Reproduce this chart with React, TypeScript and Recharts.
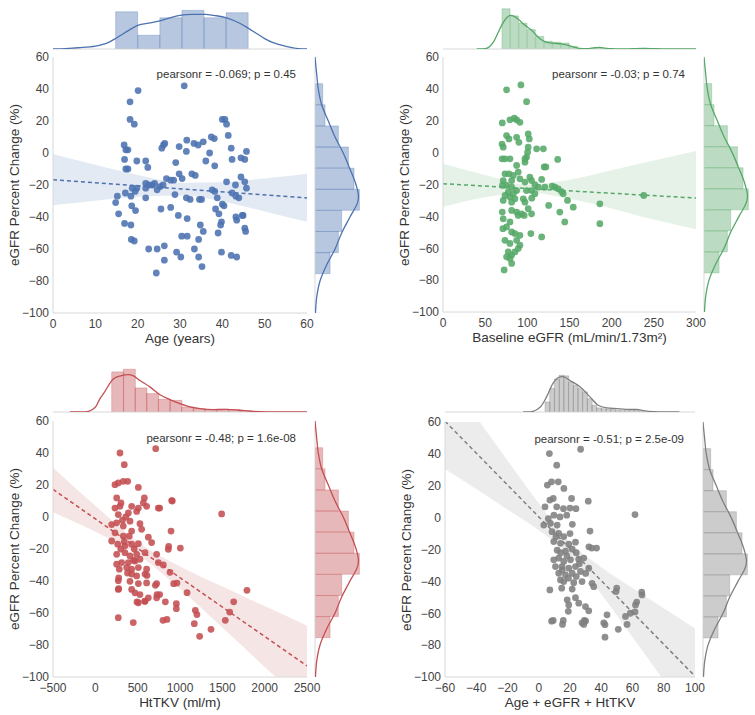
import React from 'react';
import { ComposedChart, Scatter, Line, Area, Bar, XAxis, YAxis, ZAxis, ReferenceLine } from 'recharts';

const FONT = '"Liberation Sans", Arial, Helvetica, sans-serif';
const SPINE = '#d8d8d8';
const Y_TICKS = [-100, -80, -60, -40, -20, 0, 20, 40, 60];
const Y_LABEL = 'eGFR Percent Change (%)';

// ---- shared: eGFR percent change marginal (right side of every panel)
const yBinCenters = [-68.9, -55.7, -42.5, -29.3, -16.1, -2.9, 10.3, 23.5, 36.7];
const yBinCounts = [9.6, 14.9, 17, 28.3, 24.9, 21.3, 14.9, 6.4, 4.9];
const yKdeAt = [-100, -90, -80, -70, -60, -50, -40, -30, -27, -20, -10, 0, 10, 20, 30, 40, 50, 60];
const yKdeDensity = [0.3, 1.1, 3.2, 7.4, 12.8, 17, 22.3, 27.4, 27.7, 26.2, 22.3, 18, 12.8, 8.5, 4.3, 2.1, 1, 0];

// ---- panel 1: age
const agePoints = [
  [20.1, 39], [31, 42], [18.2, 32], [18.2, 21], [19.2, 18], [16.8, 5], [17.2, 2], [17.7, 2], [16.9, -4], [17.2, -10],
  [17.7, -10], [19.8, -5], [15.2, -27], [14.8, -31], [15.5, -38], [16.9, -44], [18.4, -45], [17.1, -25], [18.4, -27],
  [18.7, -22], [19.8, -22], [19.4, -24], [18.6, -33], [19.5, -36], [18.5, -54], [19.2, -55], [21.9, -5], [22.4, -9],
  [21.9, -19], [22.6, -20], [21.9, -22], [23.4, -20], [21.9, -28], [25.7, 3], [26.1, 5], [26.4, 6], [22.6, -60],
  [24.4, -75], [24.6, -60], [26.3, -58], [26.3, -67], [25.5, -35], [26.8, -16], [27.8, -17], [28.5, -17], [29, -6],
  [29.8, 4], [31.5, 1], [31.6, 8], [33.3, 6], [34.3, 5], [35.5, 7], [29.8, -13], [30.5, -16], [32.8, -13], [33.6, -14],
  [28.8, -26], [31.5, -28], [32.4, -29], [34.6, -29], [35.1, -29], [27.8, -34], [29.6, -39], [31.7, -41], [30.4, -52],
  [31.7, -52], [29.2, -62], [30.2, -65], [33.4, -60], [34.4, -65], [35.2, -71], [34.4, -54], [34.8, -45], [35.5, -49],
  [36.1, -5], [37, 0], [38.2, -8], [37.4, 10], [38.1, 9], [37.6, -23], [38.2, -24], [38.8, -28], [38.4, -35], [39, -50],
  [39.8, -43], [39.6, -45], [39.8, -62], [39.2, -38], [40, -32], [40.4, -33], [40, 21], [40.6, 21], [41, 18], [41.4, 11],
  [41, -18], [42.1, 3], [42.3, -4], [43.1, -20], [42.3, -25], [43.2, -27], [43.9, -28], [43.2, -40], [43.4, -42],
  [44.7, -39], [44.9, -39], [42.1, -64], [43.4, -65], [44.4, -3], [45.3, -4], [45.7, 1], [44.4, -15], [45.3, -18],
  [45.7, -22], [45.3, -47], [45.5, -49], [24, -19], [25.3, -21], [24.6, -23], [26, -20],
];
const ageFitX = [0, 60];
const ageFitY = [-16.7, -28.1];
const ageBandX = [0, 10, 20, 31, 40, 50, 60];
const ageBandLo = [-32.7, -29.8, -27.3, -26.6, -30.3, -36.5, -43];
const ageBandHi = [-0.7, -7.4, -13.7, -18.6, -18.3, -15.9, -13];
const ageBinCenters = [17.41, 22.63, 27.85, 33.07, 38.29, 43.51];
const ageBinCounts = [23.6, 8.7, 19.8, 24.5, 19.8, 23];
const ageKdeX = [0, 3, 6, 10, 13, 15, 18, 20, 23, 25, 28, 30, 33, 36, 38, 41, 44, 46, 48, 50, 52, 55, 58, 60];
const ageKdeY = [0, 0.3, 0.8, 1.8, 4, 7, 12, 15, 16.5, 17.7, 20, 21.3, 22, 22, 21.3, 19.8, 16.5, 13.4, 10, 6.6, 4, 1.7, 0.3, 0.1];

// ---- panel 2: baseline eGFR
const egfrPoints = [
  [75.4, 39.4], [92.4, 42.5], [99.1, 32], [70.3, 18.6], [79.4, 20.6], [84.5, 21.6], [87.3, 20.6], [91.2, 19], [75.4, 10.7],
  [78.2, 8.6], [87.3, 9.6], [90, 6.5], [101, 11.7], [102.3, 8.6], [101, 3.4], [100.3, 0.3], [99.1, -2.8], [97.2, -6],
  [111, 2.4], [119, 2.4], [70, 5.4], [71.4, 3.4], [70, -3.9], [73.5, -3.9], [79.4, -3.9], [87.3, -8], [97.2, -3.9],
  [136, -4.3], [120, -9], [122, -9], [89.2, -12.2], [73.5, -13.3], [78.2, -13.3], [83.3, -14.3], [91.2, -16.4],
  [103, -15.4], [105, -17.5], [81.4, -17.5], [71.4, -17.5], [70.5, -20.6], [75.4, -20.6], [81.4, -21.7], [97.2, -18.5],
  [109, -20.1], [117, -16.8], [120.8, -21.7], [129.5, -21], [132.7, -21.7], [136.6, -22.7], [140.5, -24.4], [113, -21.7],
  [105, -23.8], [99, -23.8], [87.3, -23.8], [77.4, -24.8], [83.3, -25.8], [73.5, -26.9], [79.4, -27.9], [85.3, -29],
  [71.4, -30], [81.4, -31.1], [95.2, -29], [105.2, -28.6], [109, -25.8], [142.5, -25.8], [147.6, -30], [154.4, -34.2],
  [186, -32.1], [125.3, -33.1], [97.2, -31.1], [101, -35.2], [70.3, -37.3], [81.4, -36.3], [87.3, -37.3], [93.2, -38.4],
  [138.5, -37.3], [144.4, -43.5], [186, -44.6], [71.4, -41.5], [79.4, -43.5], [89.2, -39.4], [96.3, -39.4], [105, -38.4],
  [71, -47.7], [75.4, -46.6], [81.4, -49.8], [85.3, -50.8], [91.2, -51.9], [104.2, -50.8], [117, -52.9], [73.5, -55],
  [79.4, -57], [87.3, -55], [91.2, -58.1], [77.4, -62.3], [81.4, -64.3], [85.3, -62.3], [89.2, -60.2], [79.4, -66.4],
  [75.4, -65.4], [81.4, -69.5], [72.5, -73.6], [238, -26.9],
];
const egfrFitX = [0, 300];
const egfrFitY = [-19.5, -28.5];
const egfrBandX = [0, 50, 100, 150, 200, 250, 300];
const egfrBandLo = [-34, -28, -25, -29, -35, -42, -48];
const egfrBandHi = [-7, -14, -20, -17, -11, -5, 1];
const egfrBinCenters = [75, 85, 95, 105, 115, 125, 135, 145, 155, 165, 175, 185, 195, 205, 215, 225, 235];
const egfrBinCounts = [25.5, 21, 16.5, 12.3, 8, 4.9, 4.3, 3.8, 1.7, 0, 0, 0.7, 0, 0, 0, 0, 0.5];
const egfrKdeX = [40, 50, 55, 60, 65, 70, 75, 80, 85, 90, 95, 100, 105, 110, 115, 120, 125, 130, 135, 140, 145, 150, 155, 160, 170, 180, 185, 190, 200, 210, 220, 230, 240, 250, 260, 280, 300];
const egfrKdeY = [0, 0.2, 1.5, 4.5, 10, 15.5, 19.5, 21.3, 20.5, 18.5, 16, 14, 12, 9, 6.5, 4.8, 4, 3.7, 3.5, 3.2, 2.8, 2.1, 1.2, 0.6, 0.2, 0.8, 1, 0.7, 0.2, 0.05, 0.1, 0.3, 0.4, 0.2, 0.05, 0, 0];

// ---- panel 3: HtTKV
const tkvPoints = [
  [291, 40], [713, 42.7], [342, 32.7], [232, 20.2], [271, 21.3], [330, 22.3], [382, 22.3], [508, 18.5], [252, 11.9],
  [303, 8.8], [579, 11.9], [567, 8.8], [902, 10.3], [232, 5.6], [291, 6.7], [429, 6.7], [508, 5.6], [606, 6.7], [744, 5.6],
  [1492, 1.9], [271, 1.5], [390, 2.5], [488, 3.5], [193, -4.7], [252, -3.6], [330, -5.7], [409, -2.6], [527, -4.2],
  [232, -9.9], [330, -11.9], [429, -8.8], [547, -7.7], [894, -8.8], [193, -15], [264, -17], [342, -15.4], [429, -17],
  [508, -16.7], [626, -12.6], [665, -16], [252, -23.3], [350, -22.3], [409, -24.3], [488, -23.3], [587, -22.3], [862, -20.2],
  [1004, -19.4], [252, -29.5], [311, -28.5], [390, -28.5], [468, -27.5], [527, -26.4], [724, -23.3], [744, -28.5],
  [803, -30], [283, -32.6], [370, -31.6], [429, -32.6], [508, -31.6], [606, -32.6], [429, -35.7], [488, -36.8],
  [587, -35.7], [882, -34.6], [271, -39.8], [409, -40.2], [508, -41.6], [606, -41.2], [724, -41.6], [925, -41.7],
  [964, -41.3], [1083, -47.3], [271, -45.3], [429, -45.3], [468, -47.4], [527, -48.5], [626, -50.5], [724, -50.5],
  [508, -53.6], [587, -52.6], [827, -53], [957, -54.2], [957, -57.3], [1181, -58.3], [1200, -61], [1169, -66.7],
  [271, -62.9], [448, -66], [799, -64.6], [846, -64], [1366, -70.2], [1232, -74.6], [1535, -64.6], [1587, -59.4],
  [1634, -53], [1791, -45.8], [760, 5.6], [610, -36.5], [709, -42.7], [728, -48.5], [760, -48.5], [492, -53.1],
  [583, -52.7], [276, -44.8], [276, -38.1], [909, 10], [866, -18.3], [350, -18], [400, -12], [460, -20], [300, -20],
  [380, -35], [450, -27], [320, -2], [360, 0],
];
const tkvFitX = [-500, 2500];
const tkvFitY = [17.3, -93.1];
const tkvBandX = [-500, 0, 550, 1000, 1500, 2000, 2500];
const tkvBandLo = [3, -9.2, -25.3, -44.9, -69.1, -93.7, -118.3];
const tkvBandHi = [31, 7, -17.3, -30.9, -43.5, -55.7, -67.9];
const tkvBinCenters = [262, 399, 537, 674, 812, 949, 1087, 1224, 1362, 1499, 1637, 1774];
const tkvBinCounts = [25.5, 27.2, 15.3, 11.7, 8.1, 7.4, 3.2, 2.1, 1.5, 1.7, 1.5, 0.9];
const tkvKdeX = [-300, -122, 0, 55, 100, 212, 300, 389, 450, 527, 645, 763, 881, 999, 1117, 1236, 1390, 1550, 1707, 1865, 2023, 2200, 2500];
const tkvKdeY = [0, 0, 3, 8.5, 12, 21, 23, 23.8, 23, 20, 16, 11, 7.9, 5.3, 3.2, 2.1, 1.5, 1.7, 1.1, 0.4, 0.1, 0, 0];

// ---- panel 4: combined score
const combPoints = [
  [6.8, 40.2], [26.8, 42.9], [11.5, 32.9], [5.5, 20.4], [8.2, 22.5], [12.5, 22.5], [16.1, 18.3], [7.1, 11], [9.3, 12],
  [21, 12], [31.7, 10.3], [61.6, 1.9], [4, 6.7], [11.5, 6.7], [15.8, 5.6], [20, 6], [23.8, 5.6], [6.1, -0.7], [9.7, 1.5],
  [13.6, 0.4], [17.9, 1.5], [3.2, -4.7], [7.5, -3.6], [11.8, -4.7], [21.5, -4.2], [8.5, -8.8], [12.8, -9.9], [32.8, -8.4],
  [16, -11.9], [9.6, -15], [13.9, -16.1], [19.2, -16.7], [23.5, -15.4], [11.8, -20.4], [17.1, -21.1], [21.4, -19.8],
  [32.1, -18.3], [33.9, -19.1], [37, -19.1], [9.6, -26.5], [12.8, -25.4], [16, -27.5], [20.3, -26.5], [25.6, -26.1],
  [28.8, -25.4], [10.7, -30.7], [14.9, -30.7], [19.2, -31.7], [23.5, -30.7], [32, -31.7], [12.8, -34.9], [17.1, -36],
  [21.4, -34.9], [26.7, -33.8], [13.9, -39.1], [16, -40.1], [22.4, -40.8], [27.7, -40.1], [34.1, -41.2], [7.1, -45.4],
  [14.7, -44.3], [21.4, -44.8], [35.2, -43.3], [49.5, -46.4], [66.1, -48.5], [18.2, -51.6], [23.5, -50.2], [19.2, -54.8],
  [25.6, -53.7], [29.9, -55.8], [61.9, -54.8], [32, -58.5], [43.7, -61], [55.5, -62], [58.6, -60], [8.2, -65], [15.2, -67],
  [27.7, -66], [28.8, -67], [41.6, -66], [56.5, -67], [50.9, -70.1], [42.4, -75], [42.4, -67.2], [18.9, -58.8],
  [9.3, -64.5], [15.7, -64.5], [29.2, -64.5], [30, -64.9], [62.7, -53], [65.9, -46.7], [49.9, -44.2], [61.6, -59.2],
  [14, -22], [18, -24], [11, -12], [20, -10], [24, -22], [15, -33], [19, -38], [24, -37], [26, -29], [30, -35],
];
const combFitX = [-60, 100];
const combFitY = [60.5, -99.5];
const combBandX = [-60, -40, -20, 0, 20, 40, 60, 80, 100];
const combBandLo = [30.5, 17.9, 5.1, -7.9, -23.5, -47.9, -74.9, -102.1, -129.5];
const combBandHi = [90.5, 63.1, 35.9, 8.9, -15.5, -31.1, -44.1, -56.9, -69.5];
const combBinCenters = [5.5, 8.5, 11.5, 14.5, 17.5, 20.5, 23.5, 26.5, 29.5, 32.5, 35.5, 38.5, 41.5, 44.5, 47.5, 50.5, 53.5, 56.5, 59.5, 62.5, 65.5];
const combBinCounts = [6.4, 15, 21, 23.4, 23, 19, 17, 15, 12.8, 8.5, 4.3, 2.6, 2.1, 1.9, 1.5, 1.1, 0.9, 1.1, 1.3, 1.3, 0.6];
const combKdeX = [-10, -5.6, 1, 5, 9, 13.6, 15.7, 20, 26.4, 32.8, 38, 43.5, 50, 56, 62.7, 67, 73.6, 80, 90];
const combKdeY = [0, 0.1, 3.2, 9.6, 18, 22.3, 22.5, 20, 16, 9.6, 4.3, 2.6, 2.1, 1.7, 1.7, 0.9, 0.2, 0, 0];

const minus = (v: number) => String(v).replace('-', '\u2212');

const PANELS = [
  {
    id: 'age', color: '#4C72B0', plot: { l: 53, t: 57, w: 254, h: 256 }, rightL: 315,
    xDomain: [0, 60], xTicks: [0, 10, 20, 30, 40, 50, 60], xLabel: 'Age (years)',
    note: 'pearsonr = -0.069; p = 0.45',
    points: agePoints, fitX: ageFitX, fitY: ageFitY, bandX: ageBandX, bandLo: ageBandLo, bandHi: ageBandHi,
    binC: ageBinCenters, binN: ageBinCounts, kdeX: ageKdeX, kdeY: ageKdeY, topBase: 49, topH: 41, topMax: 26,
  },
  {
    id: 'egfr', color: '#55A868', plot: { l: 443, t: 57, w: 253, h: 255 }, rightL: 704,
    xDomain: [0, 300], xTicks: [0, 50, 100, 150, 200, 250, 300], xLabel: 'Baseline eGFR (mL/min/1.73m\u00B2)',
    note: 'pearsonr = -0.03; p = 0.74',
    points: egfrPoints, fitX: egfrFitX, fitY: egfrFitY, bandX: egfrBandX, bandLo: egfrBandLo, bandHi: egfrBandHi,
    binC: egfrBinCenters, binN: egfrBinCounts, kdeX: egfrKdeX, kdeY: egfrKdeY, topBase: 49, topH: 41, topMax: 26,
  },
  {
    id: 'tkv', color: '#C44E52', plot: { l: 53, t: 421, w: 254, h: 256 }, rightL: 315,
    xDomain: [-500, 2500], xTicks: [-500, 0, 500, 1000, 1500, 2000, 2500], xLabel: 'HtTKV (ml/m)',
    note: 'pearsonr = -0.48; p = 1.6e-08',
    points: tkvPoints, fitX: tkvFitX, fitY: tkvFitY, bandX: tkvBandX, bandLo: tkvBandLo, bandHi: tkvBandHi,
    binC: tkvBinCenters, binN: tkvBinCounts, kdeX: tkvKdeX, kdeY: tkvKdeY, topBase: 412, topH: 44, topMax: 28,
  },
  {
    id: 'comb', color: '#7f7f7f', plot: { l: 445, t: 422, w: 250, h: 255 }, rightL: 703,
    xDomain: [-60, 100], xTicks: [-60, -40, -20, 0, 20, 40, 60, 80, 100], xLabel: 'Age + eGFR + HtTKV',
    note: 'pearsonr = -0.51; p = 2.5e-09',
    points: combPoints, fitX: combFitX, fitY: combFitY, bandX: combBandX, bandLo: combBandLo, bandHi: combBandHi,
    binC: combBinCenters, binN: combBinCounts, kdeX: combKdeX, kdeY: combKdeY, topBase: 412, topH: 44, topMax: 28,
  },
];

const RIGHT_W = 45;
const RIGHT_MAX = 28.7;
const NO_MARGIN = { top: 0, right: 0, bottom: 0, left: 0 };

function MainPlot({ cfg }: any) {
  const { plot, color } = cfg;
  const band = cfg.bandX.map((x: number, i: number) => ({ x, band: [cfg.bandLo[i], cfg.bandHi[i]] }));
  const fit = cfg.fitX.map((x: number, i: number) => ({ x, fit: cfg.fitY[i] }));
  const pts = cfg.points.map(([x, y]: number[]) => ({ x, y }));
  return (
    <div style={{ position: 'absolute', left: plot.l - 60, top: plot.t - 10 }}>
      <ComposedChart width={plot.w + 82} height={plot.h + 50} margin={{ top: 10, right: 22, bottom: 0, left: 0 }} data={band}>
        <XAxis
          type="number" dataKey="x" domain={cfg.xDomain} ticks={cfg.xTicks} interval={0} allowDataOverflow
          height={40} tickLine={false} tickSize={0} tickMargin={6} axisLine={{ stroke: SPINE }}
          tick={{ fill: '#444', fontSize: 12, fontFamily: FONT }} tickFormatter={minus}
          label={{ value: cfg.xLabel, position: 'insideBottom', offset: 10, fill: '#333', fontSize: 13.5, fontFamily: FONT }}
        />
        <YAxis
          type="number" dataKey="y" domain={[-100, 60]} ticks={Y_TICKS} interval={0} allowDataOverflow
          width={60} tickLine={false} tickSize={0} tickMargin={4} axisLine={{ stroke: SPINE }}
          tick={{ fill: '#444', fontSize: 12, fontFamily: FONT }} tickFormatter={minus}
        />
        <ZAxis range={[36, 36]} />
        <Area type="monotone" dataKey="band" fill={color} fillOpacity={0.15} stroke="none" isAnimationActive={false} />
        <Scatter data={pts} fill={color} fillOpacity={0.88} isAnimationActive={false} />
        <Line data={fit} dataKey="fit" stroke={color} strokeWidth={1.5} strokeDasharray="4 3" dot={false} activeDot={false} isAnimationActive={false} />
      </ComposedChart>
      <div style={{ position: 'absolute', left: 22, top: 10 + plot.h / 2, transform: 'translate(-50%, -50%) rotate(-90deg)', whiteSpace: 'nowrap', fontSize: 13.5, color: '#333', fontFamily: FONT, lineHeight: '16px' }}>
        {Y_LABEL}
      </div>
      <div style={{ position: 'absolute', left: 60, top: 20, width: plot.w - 11, textAlign: 'right', fontSize: 11.5, lineHeight: '14px', color: '#333', fontFamily: FONT, whiteSpace: 'nowrap' }}>
        {cfg.note}
      </div>
    </div>
  );
}

function TopMargin({ cfg }: any) {
  const { plot, color } = cfg;
  const bins = cfg.binC.map((x: number, i: number) => ({ x, n: cfg.binN[i] }));
  const kde = cfg.kdeX.map((x: number, i: number) => ({ x, d: cfg.kdeY[i] }));
  const w = plot.w;
  const h = cfg.topH + 1;
  const axes = (key: string) => [
    <XAxis key={key + 'x'} type="number" dataKey="x" domain={cfg.xDomain} hide allowDataOverflow />,
    <YAxis key={key + 'y'} type="number" domain={[0, cfg.topMax]} hide allowDataOverflow />,
  ];
  return (
    <div style={{ position: 'absolute', left: plot.l, top: cfg.topBase - cfg.topH, width: w, height: h }}>
      <div style={{ position: 'absolute', left: 0, top: 0 }}>
        <ComposedChart width={w} height={h} margin={{ ...NO_MARGIN, bottom: 1 }} data={bins} barCategoryGap={0} barGap={0}>
          {axes('b')}
          <ReferenceLine y={0} stroke={SPINE} />
          <Bar dataKey="n" fill={color} fillOpacity={0.4} stroke={color} strokeOpacity={0.3} isAnimationActive={false} />
        </ComposedChart>
      </div>
      <div style={{ position: 'absolute', left: 0, top: 0 }}>
        <ComposedChart width={w} height={h} margin={{ ...NO_MARGIN, bottom: 1 }} data={kde}>
          {axes('k')}
          <Line type="monotone" dataKey="d" stroke={color} strokeWidth={1.3} dot={false} activeDot={false} isAnimationActive={false} />
        </ComposedChart>
      </div>
    </div>
  );
}

function RightMargin({ cfg }: any) {
  const { plot, color } = cfg;
  const bins = yBinCenters.map((y, i) => ({ y, n: yBinCounts[i] }));
  const kde = yKdeAt.map((y, i) => ({ y, d: yKdeDensity[i] }));
  const w = RIGHT_W + 1;
  const h = plot.h;
  const axes = (key: string) => [
    <XAxis key={key + 'x'} type="number" domain={[0, RIGHT_MAX]} hide allowDataOverflow />,
    <YAxis key={key + 'y'} type="number" dataKey="y" domain={[-100, 60]} reversed hide allowDataOverflow />,
  ];
  return (
    <div style={{ position: 'absolute', left: cfg.rightL - 1, top: plot.t, width: w, height: h }}>
      <div style={{ position: 'absolute', left: 0, top: 0 }}>
        <ComposedChart layout="vertical" width={w} height={h} margin={{ ...NO_MARGIN, left: 1 }} data={bins} barCategoryGap={0} barGap={0}>
          {axes('b')}
          <ReferenceLine x={0} stroke={SPINE} />
          <Bar dataKey="n" fill={color} fillOpacity={0.4} stroke={color} strokeOpacity={0.3} isAnimationActive={false} />
        </ComposedChart>
      </div>
      <div style={{ position: 'absolute', left: 0, top: 0 }}>
        <ComposedChart layout="vertical" width={w} height={h} margin={{ ...NO_MARGIN, left: 1 }} data={kde}>
          {axes('k')}
          <Line type="monotone" dataKey="d" stroke={color} strokeWidth={1.3} dot={false} activeDot={false} isAnimationActive={false} />
        </ComposedChart>
      </div>
    </div>
  );
}

export default function App() {
  return (
    <div style={{ position: 'absolute', left: 0, top: 0, width: 755, height: 715, background: '#fff', fontFamily: FONT }}>
      {PANELS.map((cfg) => (
        <React.Fragment key={cfg.id}>
          <TopMargin cfg={cfg} />
          <RightMargin cfg={cfg} />
          <MainPlot cfg={cfg} />
        </React.Fragment>
      ))}
    </div>
  );
}
